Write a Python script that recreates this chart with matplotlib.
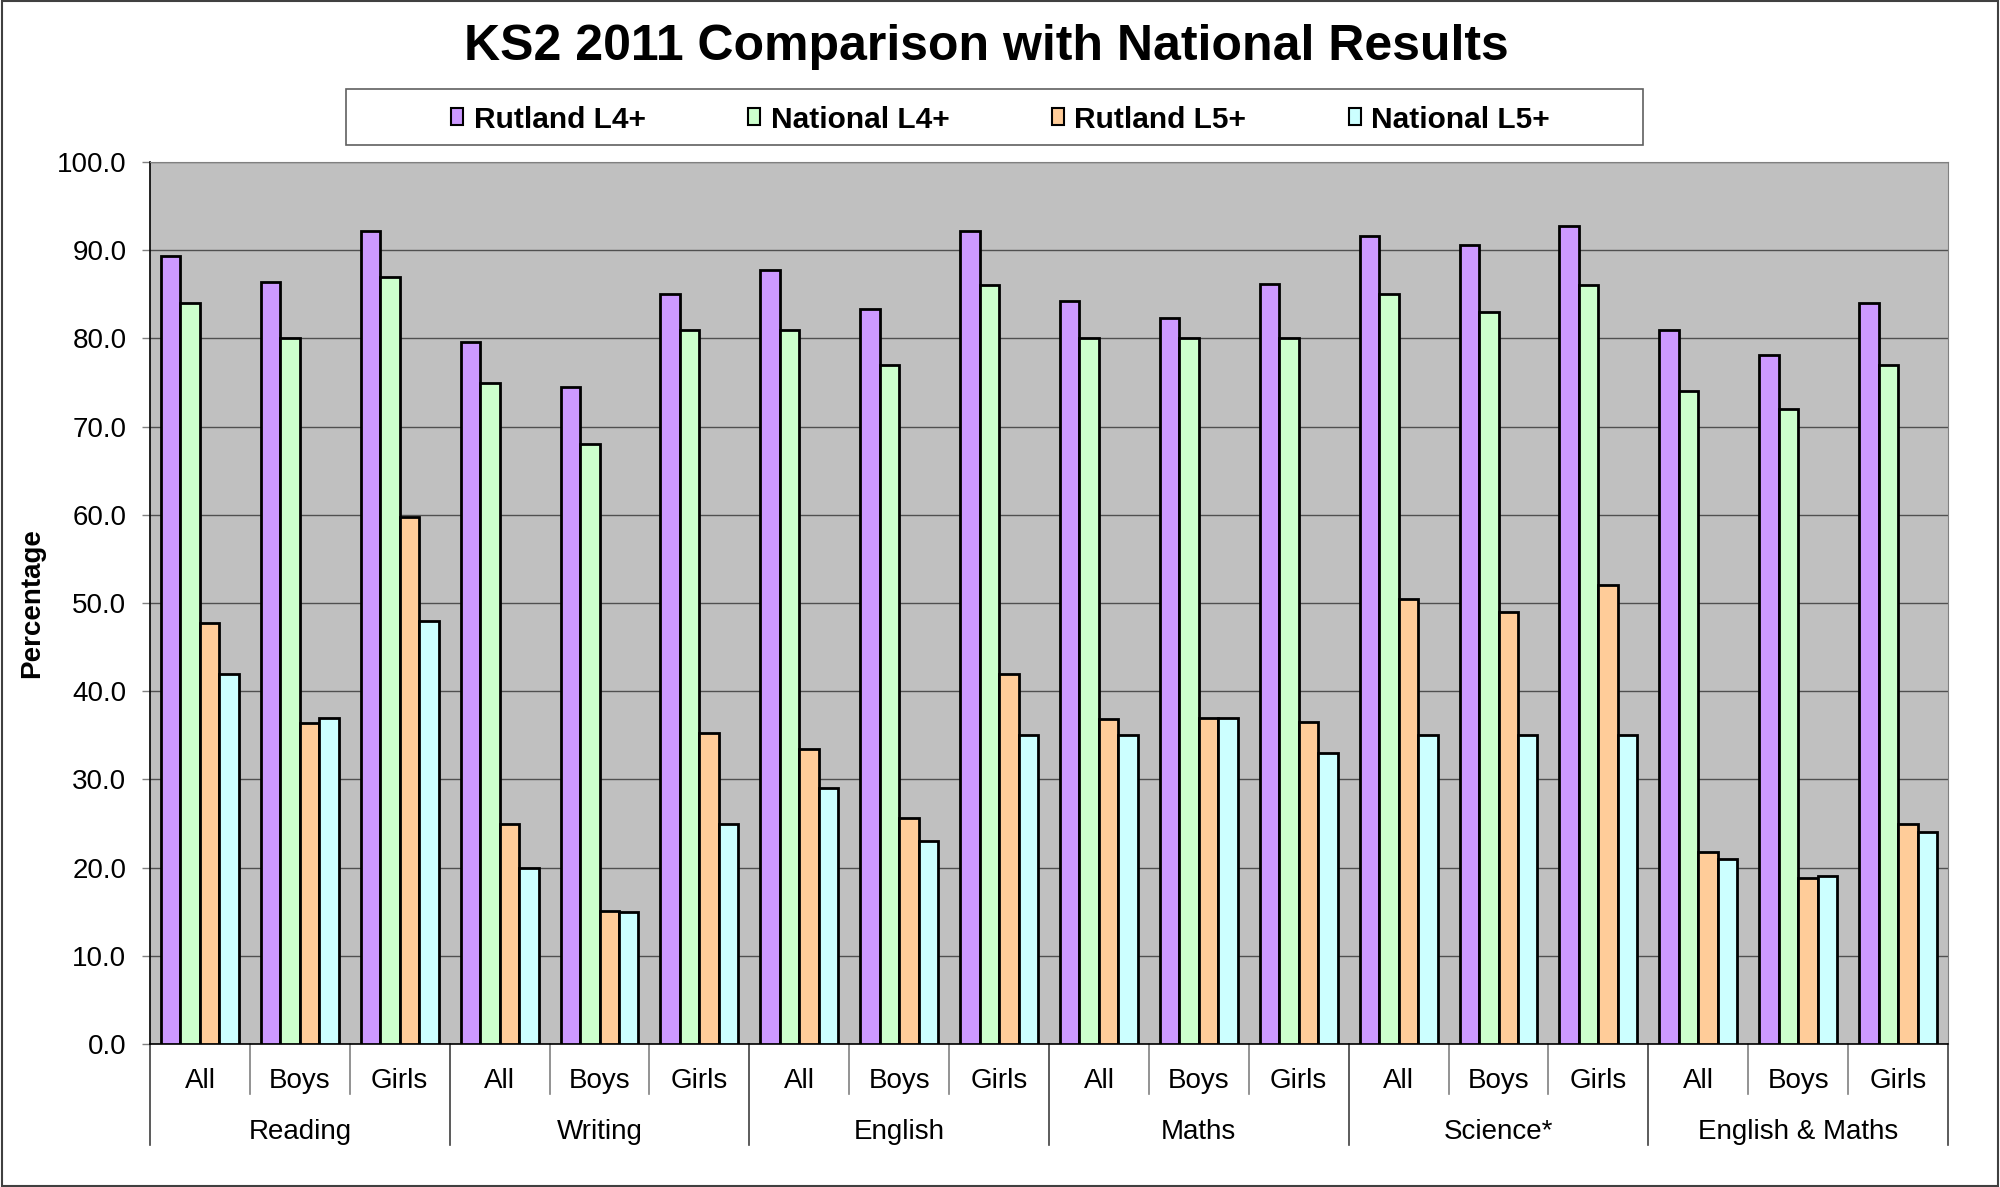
import numpy as np
import matplotlib
matplotlib.use('Agg')
import matplotlib.pyplot as plt
from matplotlib.patches import Patch, Rectangle
from matplotlib import transforms

plt.rcParams['font.family'] = ['Liberation Sans', 'DejaVu Sans']

# DATA :
subjects = ['Reading', 'Writing', 'English', 'Maths', 'Science*', 'English & Maths']
groups = ['All', 'Boys', 'Girls']
series_names = ['Rutland L4+', 'National L4+', 'Rutland L5+', 'National L5+']
rutland_l4 = [89.3, 86.4, 92.2, 79.6, 74.5, 85.0, 87.7, 83.3, 92.2,
              84.2, 82.3, 86.2, 91.6, 90.6, 92.8, 80.9, 78.1, 84.0]
national_l4 = [84, 80, 87, 75, 68, 81, 81, 77, 86,
               80, 80, 80, 85, 83, 86, 74, 72, 77]
rutland_l5 = [47.7, 36.4, 59.7, 24.9, 15.1, 35.3, 33.5, 25.6, 42.0,
              36.8, 37.0, 36.5, 50.4, 49.0, 52.0, 21.8, 18.8, 24.9]
national_l5 = [42, 37, 48, 20, 15, 25, 29, 23, 35,
               35, 37, 33, 35, 35, 35, 21, 19, 24]
colors = ['#CC99FF', '#CCFFCC', '#FFCC99', '#CCFFFF']

series = [rutland_l4, national_l4, rutland_l5, national_l5]
n_cat = len(subjects) * len(groups)
x = np.arange(n_cat)
w = 0.195

fig = plt.figure(figsize=(20, 11.87), dpi=100)
ax = fig.add_axes([0.075, 1 - 1044/1187, 0.899, 882/1187])
ax.set_facecolor('#C0C0C0')

for k, (vals, col) in enumerate(zip(series, colors)):
    ax.bar(x + (k - 1.5)*w, vals, width=w, color=col, edgecolor='black',
           linewidth=2.0, zorder=3)

ax.set_xlim(-0.5, n_cat - 0.5)
ax.set_ylim(0, 100)
ax.set_yticks(np.arange(0, 101, 10))
ax.set_yticklabels(['%.1f' % v for v in np.arange(0, 101, 10)], fontsize=20)
ax.tick_params(axis='y', length=6, width=1, color='#808080', pad=11)
ax.yaxis.grid(True, color='#505050', linewidth=1.0, zorder=1)
ax.set_xticks([])
for s in ['top', 'right']:
    ax.spines[s].set_color('#808080')
for s in ['left', 'bottom']:
    ax.spines[s].set_color('black')
    ax.spines[s].set_linewidth(1.2)

# two level category axis
trans = transforms.blended_transform_factory(ax.transData, ax.transAxes)
for i in range(n_cat):
    ax.text(x[i], -0.0414, groups[i % 3], transform=trans, ha='center',
            va='center', fontsize=20)
for j, subj in enumerate(subjects):
    ax.text(3*j + 1, -0.0993, subj, transform=trans, ha='center',
            va='center', fontsize=20)
for b in range(n_cat + 1):
    xb = b - 0.5
    if b % 3 == 0:
        ax.plot([xb, xb], [0, -0.1145], transform=trans, color='#404040',
                lw=1.2, clip_on=False)
    else:
        ax.plot([xb, xb], [0, -0.0567], transform=trans, color='#808080',
                lw=1.2, clip_on=False)

ax.text(-0.0656, 0.5, 'Percentage', transform=ax.transAxes, rotation=90,
        ha='center', va='center', fontsize=20, fontweight='bold')

fig.text(0.4933, 0.9603, 'KS2 2011 Comparison with National Results',
         ha='center', va='center', fontsize=36, fontweight='bold')

# legend box
fig.add_artist(Rectangle((346/2000, 1 - 145/1187), 1297/2000, 56/1187,
                         transform=fig.transFigure, facecolor='white',
                         edgecolor='#606060', lw=1.2))
handles = [Patch(facecolor=c, edgecolor='black', lw=1.5) for c in colors]
leg = fig.legend(handles, series_names, loc='center', ncol=4,
                 bbox_to_anchor=(0.5003, 0.8993), frameon=False,
                 prop={'size': 21.5, 'weight': 'bold'},
                 handlelength=0.4, handleheight=0.5, handletextpad=0.35,
                 columnspacing=3.43)

# outer border
fig.add_artist(Rectangle((0.0008, 0.0012), 0.9984, 0.9976,
                         transform=fig.transFigure, fill=False,
                         edgecolor='#404040', lw=1.5))

fig.savefig('out.png', dpi=100, facecolor='white')
